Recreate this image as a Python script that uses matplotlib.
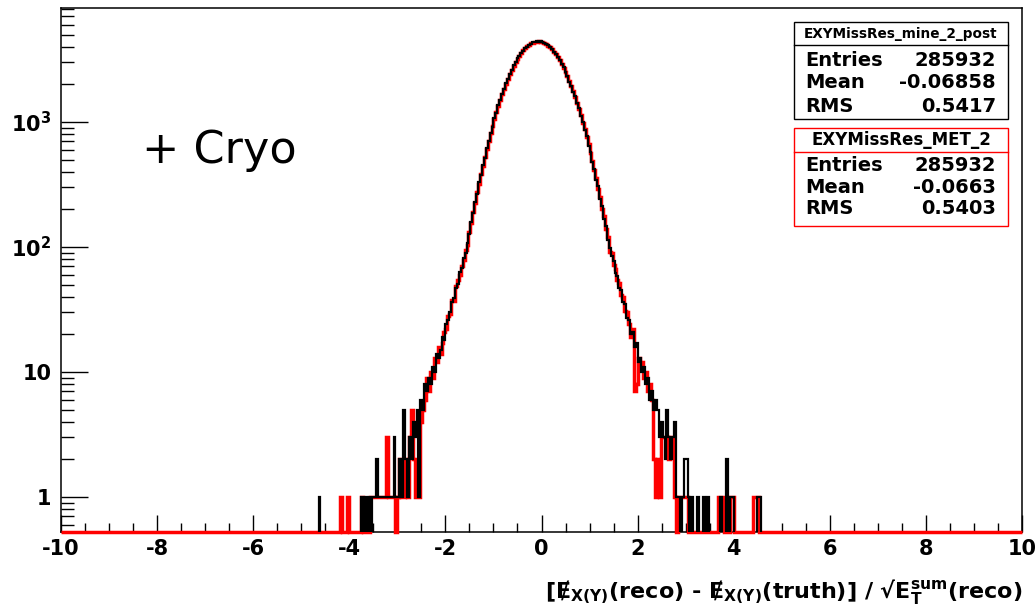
import numpy as np
import matplotlib
matplotlib.use("Agg")
import matplotlib.pyplot as plt
from matplotlib.ticker import MultipleLocator, FixedLocator, FixedFormatter, LogLocator, NullFormatter
from matplotlib.patches import Rectangle
from matplotlib.lines import Line2D

plt.rcParams['font.family'] = ['DejaVu Sans']
plt.rcParams['font.weight'] = 'bold'
plt.rcParams['axes.unicode_minus'] = False
plt.rcParams['mathtext.fontset'] = 'custom'
plt.rcParams['mathtext.rm'] = 'DejaVu Sans:bold'
plt.rcParams['mathtext.bf'] = 'DejaVu Sans:bold'
plt.rcParams['mathtext.it'] = 'DejaVu Sans:bold'
plt.rcParams['mathtext.default'] = 'rm'

# ---------------- data ----------------
x_min, x_max, n_bins = -10.0, 10.0, 500
first_bin = 132   # index of first listed bin (left edge -4.72)

black_counts = [
    0, 0, 1, 0, 0, 0, 0, 0, 0, 0,
    0, 0, 0, 0, 0, 0, 0, 0, 0, 0,
    0, 0, 0, 0, 1, 0, 1, 0, 1, 0,
    1, 1, 2, 1, 1, 1, 1, 1, 1, 1,
    1, 3, 1, 1, 2, 1, 5, 2, 1, 3,
    2, 4, 3, 5, 1, 6, 5, 8, 7, 9,
    8, 11, 10, 14, 13, 15, 19, 18, 24, 26,
    30, 36, 39, 47, 51, 63, 68, 82, 90, 108,
    126, 160, 186, 231, 268, 329, 378, 456, 519, 620,
    699, 822, 918, 1068, 1183, 1357, 1490, 1688, 1826, 2045,
    2203, 2437, 2600, 2839, 2995, 3230, 3375, 3596, 3720, 3915,
    4010, 4170, 4226, 4346, 4360, 4428, 4401, 4415, 4338, 4307,
    4183, 4110, 3948, 3838, 3641, 3505, 3285, 3131, 2899, 2736,
    2500, 2337, 2106, 1952, 1737, 1602, 1407, 1283, 1110, 1004,
    857, 770, 647, 579, 478, 424, 344, 305, 242, 214,
    168, 148, 113, 99, 84, 77, 62, 59, 47, 45,
    36, 35, 27, 26, 20, 21, 16, 17, 12, 13,
    10, 11, 8, 9, 6, 7, 5, 6, 5, 3,
    4, 3, 2, 5, 3, 2, 3, 4, 1, 1,
    0, 1, 2, 2, 1, 0, 1, 0, 0, 1,
    0, 0, 1, 0, 1, 0, 0, 0, 0, 0,
    0, 1, 0, 0, 2, 0, 1, 1, 0, 0,
    0, 0, 0, 0, 0, 0, 0, 0, 0, 0,
    1, 1, 0, 0, 0, 0,
]

red_counts = [
    0, 0, 0, 0, 0, 0, 0, 0, 0, 0,
    0, 0, 0, 1, 0, 0, 0, 1, 0, 0,
    0, 0, 0, 0, 1, 0, 0, 0, 0, 1,
    1, 1, 1, 1, 1, 1, 1, 3, 1, 1,
    1, 1, 0, 1, 2, 1, 1, 2, 1, 3,
    5, 2, 1, 1, 1, 4, 5, 6, 9, 7,
    10, 9, 13, 12, 16, 14, 17, 21, 22, 28,
    29, 38, 37, 49, 54, 60, 71, 79, 94, 104,
    131, 155, 192, 226, 274, 322, 385, 448, 528, 611,
    708, 812, 930, 1055, 1197, 1342, 1505, 1669, 1846, 2025,
    2224, 2414, 2621, 2815, 3020, 3206, 3399, 3570, 3745, 3890,
    4035, 4145, 4252, 4320, 4384, 4405, 4420, 4392, 4360, 4284,
    4205, 4088, 3970, 3815, 3664, 3480, 3308, 3109, 2922, 2713,
    2523, 2314, 2129, 1930, 1759, 1581, 1427, 1262, 1129, 986,
    874, 752, 663, 562, 492, 410, 357, 292, 253, 203,
    177, 139, 120, 92, 89, 72, 67, 54, 52, 41,
    40, 31, 30, 24, 19, 22, 7, 8, 13, 11,
    12, 9, 10, 7, 8, 6, 2, 1, 2, 1,
    3, 3, 3, 3, 2, 3, 3, 1, 0, 1,
    1, 1, 1, 1, 0, 0, 0, 0, 0, 0,
    0, 0, 0, 0, 0, 0, 0, 0, 0, 0,
    1, 1, 1, 0, 0, 0, 1, 1, 0, 0,
    0, 0, 0, 0, 0, 0, 0, 0, 1, 1,
    1, 0, 0, 0, 0, 0,
]

x_ticks = [-10, -8, -6, -4, -2, 0, 2, 4, 6, 8, 10]
y_ticks = [1, 10, 100, 1000]
y_tick_labels = ['1', '10', r'$10^{2}$', r'$10^{3}$']

stats_black = dict(title='EXYMissRes_mine_2_post', Entries='285932', Mean='-0.06858', RMS='0.5417')
stats_red = dict(title='EXYMissRes_MET_2', Entries='285932', Mean='-0.0663', RMS='0.5403')

annotation = '+ Cryo'
x_label = r'[Ɇ$_{X(Y)}$(reco) - Ɇ$_{X(Y)}$(truth)] / √E$_{T}^{sum}$(reco)'

# ---------------- build histograms ----------------
edges = np.linspace(x_min, x_max, n_bins + 1)
hb = np.zeros(n_bins)
hr = np.zeros(n_bins)
hb[first_bin:first_bin + len(black_counts)] = black_counts
hr[first_bin:first_bin + len(red_counts)] = red_counts

W, H = 1035, 605
fig = plt.figure(figsize=(W / 100, H / 100), dpi=100)
fig.patch.set_facecolor('white')

ax_l, ax_r, ax_t, ax_b = 61, 1022, 8, 532
ax = fig.add_axes([ax_l / W, 1 - ax_b / H, (ax_r - ax_l) / W, (ax_b - ax_t) / H])

y_lo, y_hi = 0.525, 8170
ax.set_yscale('log')
ax.set_xlim(x_min, x_max)
ax.set_ylim(y_lo, y_hi)

# red drawn first (wider), zero bins sit on the bottom axis as in ROOT
ax.stairs(np.maximum(hr, y_lo), edges, baseline=None, color='#ff0000', lw=2.5,
          zorder=3, clip_on=False)
ax.stairs(hb, edges, baseline=None, color='black', lw=1.6, zorder=4)

for s in ax.spines.values():
    s.set_linewidth(1.1)
    s.set_zorder(2.5)

ax.xaxis.set_major_locator(FixedLocator(x_ticks))
ax.xaxis.set_minor_locator(MultipleLocator(0.5))
ax.yaxis.set_major_locator(FixedLocator(y_ticks))
ax.yaxis.set_major_formatter(FixedFormatter(y_tick_labels))
ax.yaxis.set_minor_locator(LogLocator(base=10, subs=np.arange(2, 10), numticks=20))
ax.yaxis.set_minor_formatter(NullFormatter())

ax.tick_params(axis='x', which='major', direction='in', length=12.2, width=1.0,
               pad=5, labelsize=15)
ax.tick_params(axis='x', which='minor', direction='in', length=6.5, width=1.0)
ax.tick_params(axis='y', which='major', direction='in', length=19.5, width=1.0,
               pad=7, labelsize=15)
ax.tick_params(axis='y', which='minor', direction='in', length=9.4, width=1.0)
for lab in ax.get_xticklabels() + ax.get_yticklabels():
    lab.set_fontweight('bold')


def fx(px):
    return px / W


def fy(py):
    return 1 - py / H


def stat_box(st, y0, y1, ysep, title_y, rows_y, edge, title_size):
    x0, x1 = 794, 1008
    fig.add_artist(Rectangle((fx(x0), fy(y1)), fx(x1) - fx(x0), fy(y0) - fy(y1),
                             transform=fig.transFigure, facecolor='white',
                             edgecolor=edge, lw=1.0, zorder=10))
    fig.add_artist(Line2D([fx(x0), fx(x1)], [fy(ysep), fy(ysep)],
                          transform=fig.transFigure, color=edge, lw=1.0, zorder=11))
    fig.text(fx((x0 + x1) / 2), fy(title_y), st['title'], ha='center', va='center',
             fontsize=title_size, fontweight='bold', zorder=12)
    for key, yy in zip(['Entries', 'Mean', 'RMS'], rows_y):
        fig.text(fx(805), fy(yy), key, ha='left', va='center', fontsize=14,
                 fontweight='bold', zorder=12)
        fig.text(fx(996), fy(yy), st[key], ha='right', va='center', fontsize=14,
                 fontweight='bold', zorder=12)


stat_box(stats_black, 22, 119, 45, 34, [60, 83, 107], 'black', 9.8)
stat_box(stats_red, 128, 226, 152, 140, [166, 188, 208], '#ff0000', 12)

fig.text(fx(142), fy(163), annotation, ha='left', va='baseline', fontsize=32,
         fontweight='normal', family='DejaVu Sans')

fig.text(fx(1022), fy(598), x_label, ha='right', va='baseline', fontsize=16)

fig.savefig('out.png', dpi=100, facecolor='white')
